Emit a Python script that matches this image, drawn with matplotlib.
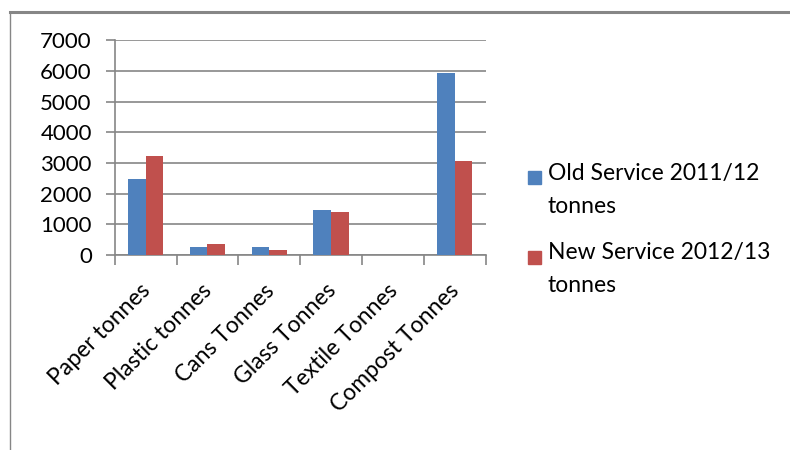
import numpy as np
import matplotlib.pyplot as plt
import matplotlib.transforms as mtransforms
from matplotlib.patches import Rectangle
from matplotlib.lines import Line2D

# data
categories = ['Paper tonnes', 'Plastic tonnes', 'Cans Tonnes', 'Glass Tonnes',
              'Textile Tonnes', 'Compost Tonnes']
old_service = [2480, 260, 260, 1470, 0, 5935]
new_service = [3230, 360, 160, 1400, 0, 3065]
series_labels = ['Old Service 2011/12\ntonnes', 'New Service 2012/13\ntonnes']
yticks = [0, 1000, 2000, 3000, 4000, 5000, 6000, 7000]

blue = '#4F81BD'
red = '#C0504D'
grey = '#868686'

plt.rcParams['font.family'] = ['Lato', 'DejaVu Sans']

fig = plt.figure(figsize=(7.9, 4.5), dpi=100)
ax = fig.add_axes([0.1452, 0.4333, 0.4696, 0.4771])

x = np.arange(len(categories))
w = 0.285
ax.bar(x - w / 2, old_service, width=w, color=blue, zorder=3)
ax.bar(x + w / 2, new_service, width=w, color=red, zorder=3)

ax.set_xlim(-0.5, len(categories) - 0.5)
ax.set_ylim(0, 7000)
ax.set_yticks(yticks)
ax.set_yticklabels([str(v) for v in yticks])
ax.grid(axis='y', color=grey, lw=1.2, zorder=0)

ax.set_xticks(x)
ax.set_xticklabels(categories, rotation=45, ha='right', va='top',
                   rotation_mode='anchor')
ax.set_xticks(np.arange(len(categories) + 1) - 0.5, minor=True)
ax.tick_params(axis='x', which='major', length=0, pad=18, labelsize=16.5)
ax.tick_params(axis='x', which='minor', length=7, color=grey, width=1.2)
ax.tick_params(axis='y', length=6.5, color=grey, width=1.2, pad=10,
               labelsize=16)
# nudge the rotated labels a little to the left
shift = mtransforms.ScaledTranslation(-6 / 100, 0, fig.dpi_scale_trans)
for lbl in ax.get_xticklabels():
    lbl.set_transform(lbl.get_transform() + shift)

for s in ['top', 'right']:
    ax.spines[s].set_visible(False)
for s in ['left', 'bottom']:
    ax.spines[s].set_color(grey)
    ax.spines[s].set_linewidth(1.2)

# legend drawn by hand so the swatch sits on the first text line
W, H = 790, 450
for i, (lab, col) in enumerate(zip(series_labels, [blue, red])):
    ytop = 178 + i * 79
    fig.patches.append(Rectangle((528 / W, 1 - (ytop + 6.5) / H), 13 / W, 13 / H,
                                 transform=fig.transFigure, color=col))
    fig.text(548 / W, 1 - (ytop - 15) / H, lab, fontsize=16.5, va='top',
             linespacing=1.7)

# chart area border (top and left edges visible)
fig.lines.append(Line2D([9.5 / W, 1], [1 - 11.5 / H, 1 - 11.5 / H],
                        transform=fig.transFigure, color=grey, lw=2.2))
fig.lines.append(Line2D([9.5 / W, 9.5 / W], [0, 1 - 11.5 / H],
                        transform=fig.transFigure, color=grey, lw=1))

fig.savefig('out.png', dpi=100)
